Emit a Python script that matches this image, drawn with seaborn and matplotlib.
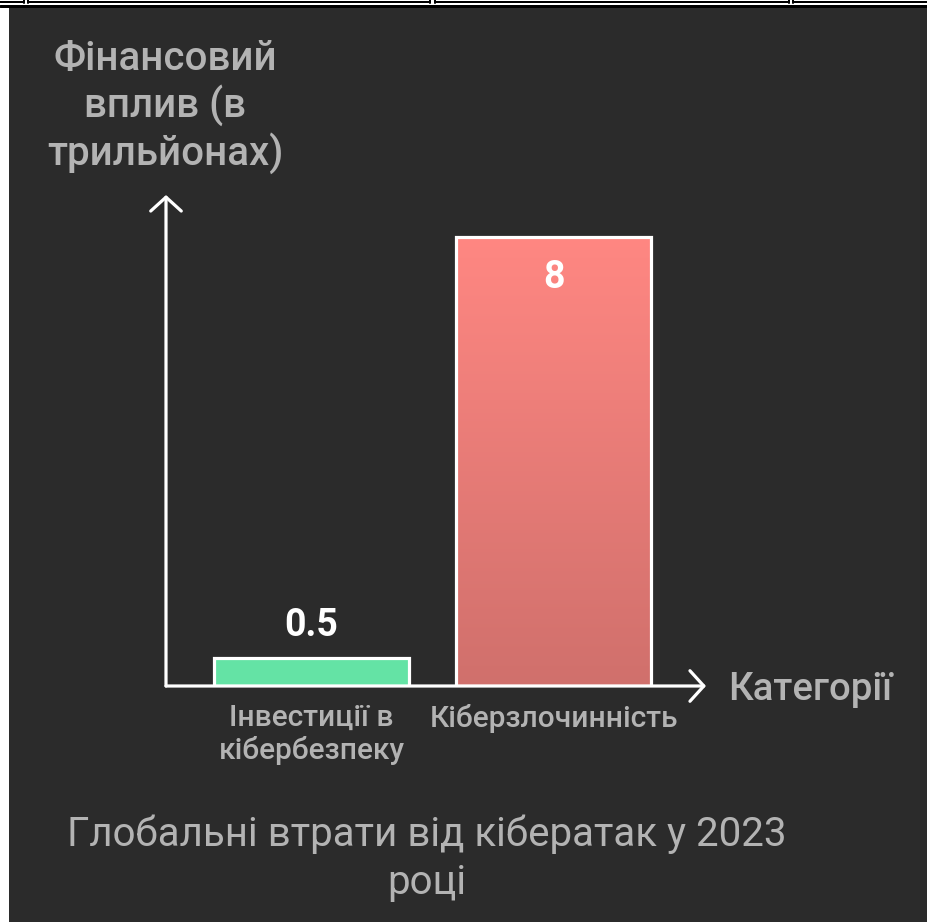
import matplotlib
matplotlib.use("Agg")
import matplotlib.pyplot as plt
import seaborn as sns
import numpy as np
from matplotlib.patches import Rectangle
from matplotlib.lines import Line2D
from matplotlib.colors import LinearSegmentedColormap

# ---- data ----
categories = ["Інвестиції в\nкібербезпеку", "Кіберзлочинність"]
values = [0.5, 8]
value_labels = ["0.5", "8"]
bar_colors = ["#64e3a5", "#f4817c"]
title_text = "Глобальні втрати від кібератак у 2023\nроці"
y_label = "Фінансовий\nвплив (в\nтрильйонах)"
x_label = "Категорії"

sns.set_style("dark")
plt.rcParams["font.family"] = ["Roboto", "DejaVu Sans"]

W, H = 927, 922
BG = "#2b2b2b"
TXT = "#b3b3b3"

fig = plt.figure(figsize=(W / 100, H / 100), dpi=100, facecolor="white")


def fx(x):
    return x / W


def fy(y):
    return 1 - y / H


# dark panel
fig.patches.append(Rectangle((fx(9), 0), 1 - fx(9), fy(8), transform=fig.transFigure,
                             facecolor=BG, edgecolor="none", zorder=-5))
# frame strip along the top edge
px = 0.72
fig.add_artist(Line2D([0, 1], [fy(6.5), fy(6.5)], transform=fig.transFigure,
                      color="black", lw=3 * px))
for x0, x1 in [(0, 24), (28, 430), (435, 789), (793, 927)]:
    fig.add_artist(Line2D([fx(x0), fx(x1)], [fy(2.5), fy(2.5)], transform=fig.transFigure,
                          color="black", lw=2 * px))
for xv in [24, 28, 430, 435, 789, 793]:
    fig.add_artist(Line2D([fx(xv), fx(xv)], [fy(0), fy(3.5)], transform=fig.transFigure,
                          color="black", lw=2 * px))

# plotting area
ax = fig.add_axes([fx(166), fy(686), fx(706) - fx(166), fy(195) - fy(686)])
ax.set_zorder(2)
ax.set_facecolor("none")

sns.barplot(x=categories, y=values, hue=categories, palette=bar_colors, legend=False,
            width=0.806, saturation=1, edgecolor="white", linewidth=2.3, ax=ax, zorder=3)

# vertical gradient on the cybercrime bar
p = ax.patches[1]
x0, w, h = p.get_x(), p.get_width(), p.get_height()
cmap = LinearSegmentedColormap.from_list("bar", ["#d0706c", "#ff8782"])
grad = np.linspace(0, 1, 256).reshape(-1, 1)
im = ax.imshow(grad, extent=[x0, x0 + w, 0, h], origin="lower", aspect="auto",
               cmap=cmap, zorder=2.9)
im.set_clip_path(p)
p.set_facecolor("none")

ax.set_xlim(-0.601, 1.630)
ax.set_ylim(0, 8.75)
ax.set_yticks([])
for s in ax.spines.values():
    s.set_visible(False)
ax.grid(False)
ax.set_xlabel("")
ax.set_ylabel("")
ax.tick_params(axis="x", length=0, pad=13, labelsize=21.5, labelcolor=TXT)
for lab in ax.get_xticklabels():
    lab.set_fontweight("medium")
    lab.set_verticalalignment("top")
    lab.set_linespacing(1.15)

# axis arrows
arrow = dict(arrowstyle="->,head_length=0.5,head_width=0.55", color="white", lw=2.3,
             shrinkA=0, shrinkB=0, mutation_scale=20)
ax.annotate("", xy=(0, 1), xytext=(0, 0), xycoords="axes fraction", arrowprops=arrow,
            annotation_clip=False, zorder=5)
ax.annotate("", xy=(1, 0), xytext=(0, 0), xycoords="axes fraction", arrowprops=arrow,
            annotation_clip=False, zorder=5)

# value labels
ax.annotate(value_labels[0], xy=(0, values[0]), xytext=(0, 15.5), textcoords="offset points",
            ha="center", va="baseline", color="white", fontsize=27, fontweight="bold", zorder=6)
ax.annotate(value_labels[1], xy=(1, values[1]), xytext=(0, -29), textcoords="offset points",
            ha="center", va="center", color="white", fontsize=27, fontweight="bold", zorder=6)

# axis titles
fig.text(fx(165), fy(107), y_label, ha="center", va="center", color=TXT,
         fontsize=29, linespacing=1.2, fontweight="medium")
fig.text(fx(728), fy(689), x_label, ha="left", va="center", color=TXT, fontsize=27.5,
         fontweight="medium")

# chart title
fig.text(fx(427), fy(858), title_text, ha="center", va="center", color=TXT,
         fontsize=29, linespacing=1.28)

fig.savefig("out.png", dpi=100, facecolor="white")
